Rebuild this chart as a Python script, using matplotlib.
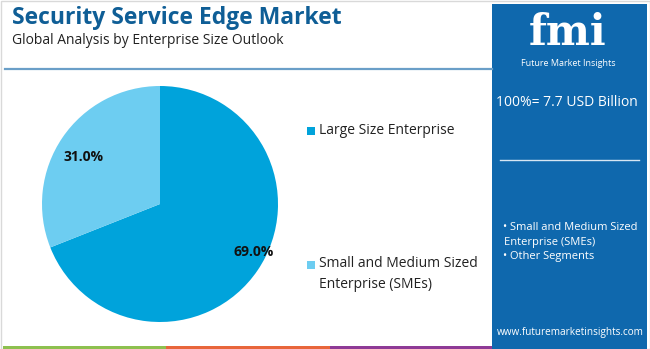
import matplotlib.pyplot as plt
from matplotlib.patches import Rectangle

# ------------------------------------------------------------
# Data
# ------------------------------------------------------------
segments = ["Large Size Enterprise", "Small and Medium Sized\nEnterprise (SMEs)"]
shares = [69.0, 31.0]
colors = ["#00A3DB", "#6DCDF1"]
total_label = "100%= 7.7 USD Billion"
other_lines = ["\u2022 Small and Medium Sized", "Enterprise (SMEs)", "\u2022 Other Segments"]

TITLE = "Security Service Edge Market"
SUBTITLE = "Global Analysis by Enterprise Size Outlook"
PANEL_BLUE = "#0F68AD"

W, H = 650, 349
fig = plt.figure(figsize=(W / 100, H / 100), dpi=100)

# background canvas in pixel coordinates
bg = fig.add_axes([0, 0, 1, 1])
bg.set_xlim(0, W)
bg.set_ylim(H, 0)
bg.axis("off")

bg.add_patch(Rectangle((0.5, 0.5), W - 1, H - 1, fill=False, ec="#d9d9d9", lw=1))

# title block
bg.text(12, 18, TITLE, fontsize=16.5, fontweight="bold", color="#0F5E96",
        family="Open Sans", va="center", ha="left")
bg.text(12, 40, SUBTITLE, fontsize=10, color="#222222",
        family="Open Sans", va="center", ha="left")
bg.plot([5, 492], [69, 69], color="#6A9FC8", lw=1.6)

# bottom colour strip
for x0, x1, c in [(3, 166, "#8DC04F"), (166, 330, "#E8663B"), (330, 494, "#8E3A96")]:
    bg.add_patch(Rectangle((x0, 345.5), x1 - x0, 3, color=c, lw=0))

# right info panel
bg.add_patch(Rectangle((492, 4), 155, 345, color=PANEL_BLUE, lw=0))
bg.text(568, 33, "fmi", fontsize=30, fontweight="bold", color="white",
        family="DejaVu Serif", ha="center", va="center")
bg.text(568, 64, "Future Market Insights", fontsize=6.5, color="white",
        family="Open Sans", ha="center", va="center")
bg.text(567, 103, total_label, fontsize=10, color="white",
        family="Open Sans", ha="center", va="center")
bg.plot([500, 639], [160, 160], color="#d6e6f3", lw=1)
for txt, x, y in zip(other_lines, [503, 504, 503], [228, 242, 257]):
    bg.text(x, y, txt, fontsize=8, color="white", family="Open Sans",
            ha="left", va="center")
bg.text(570, 333, "www.futuremarketinsights.com", fontsize=7.2, color="white",
        family="Open Sans", ha="center", va="center")

# legend
legend_y = [131, 274]
for name, c, y in zip(segments, colors, legend_y):
    first = y if "\n" not in name else y - 9
    bg.add_patch(Rectangle((307, first - 4), 8, 8, color=c, lw=0))
    bg.text(319, y, name, fontsize=10, color="#222222", family="Open Sans",
            ha="left", va="center", linespacing=1.5)

# pie chart
cx, cy, r = 160, 204, 118
ax = fig.add_axes([(cx - r) / W, (H - cy - r) / H, 2 * r / W, 2 * r / H])
ax.pie(shares, colors=colors, startangle=90, counterclock=False,
       wedgeprops=dict(linewidth=0))
ax.set_xlim(-1, 1)
ax.set_ylim(-1, 1)
ax.set_aspect("equal")
ax.axis("off")

label_pos = [(0.79, -0.41), (-0.65, 0.40)]
for v, (x, y) in zip(shares, label_pos):
    ax.text(x, y, f"{v:.1f}%", fontsize=10, fontweight="bold", color="#111111",
            family="Open Sans", ha="center", va="center")

fig.savefig("out.png", dpi=100)
